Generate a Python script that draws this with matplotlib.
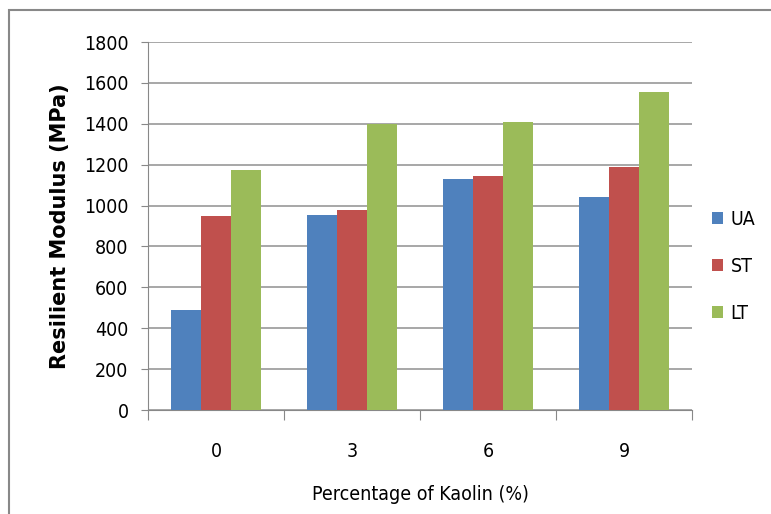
import matplotlib.pyplot as plt
from matplotlib.patches import Rectangle
import numpy as np

# Data
kaolin = ['0', '3', '6', '9']
series = ['UA', 'ST', 'LT']
ua = [488, 956, 1132, 1041]
st = [950, 976, 1147, 1188]
lt = [1172, 1397, 1410, 1555]
colors = ['#4F81BD', '#C0504D', '#9BBB59']

plt.rcParams['font.family'] = ['DejaVu Sans']
plt.rcParams['font.stretch'] = 'condensed'

fig = plt.figure(figsize=(7.71, 5.14), dpi=100)
ax = fig.add_axes([148 / 771, 1 - 410 / 514, (692 - 148) / 771, (410 - 42) / 514])

x = np.arange(len(kaolin))
w = 0.22
for i, (vals, name) in enumerate(zip([ua, st, lt], series)):
    ax.bar(x + (i - 1) * w, vals, w, color=colors[i], label=name, zorder=3)

ax.set_xlim(-0.5, len(kaolin) - 0.5)
ax.set_ylim(0, 1800)
ax.set_yticks(range(0, 1801, 200))
ax.tick_params(axis='y', labelsize=14, length=5, color='#888888', direction='out', pad=9)
ax.yaxis.grid(True, color='#A0A0A0', linewidth=1.3, zorder=0)

# category ticks between groups, labels at centres
ax.set_xticks(np.arange(-0.5, len(kaolin), 1.0))
ax.set_xticklabels([])
ax.set_xticks(x, minor=True)
ax.set_xticklabels(kaolin, minor=True, fontsize=14)
ax.tick_params(axis='x', which='major', length=7, color='#888888')
ax.tick_params(axis='x', which='minor', length=0, pad=23)

for side in ['top', 'right']:
    ax.spines[side].set_visible(False)
ax.spines['left'].set_color('#888888')
ax.spines['bottom'].set_color('#888888')

ax.set_ylabel('Resilient Modulus (MPa)', fontsize=15, fontweight='bold',
              fontstretch='normal', labelpad=10)
ax.set_xlabel('Percentage of Kaolin (%)', fontsize=14, labelpad=17)

ax.legend(loc='center left', bbox_to_anchor=(1.005, 0.39), frameon=False, fontsize=14,
          handlelength=0.55, handleheight=0.55, handletextpad=0.4, labelspacing=1.45)

# outer chart border
fig.patches.append(Rectangle((9 / 771, -0.1), 1.2, 1 - 10 / 514 + 0.1, transform=fig.transFigure,
                             fill=False, edgecolor='#888888', linewidth=1.5))

fig.savefig('out.png', dpi=100)
